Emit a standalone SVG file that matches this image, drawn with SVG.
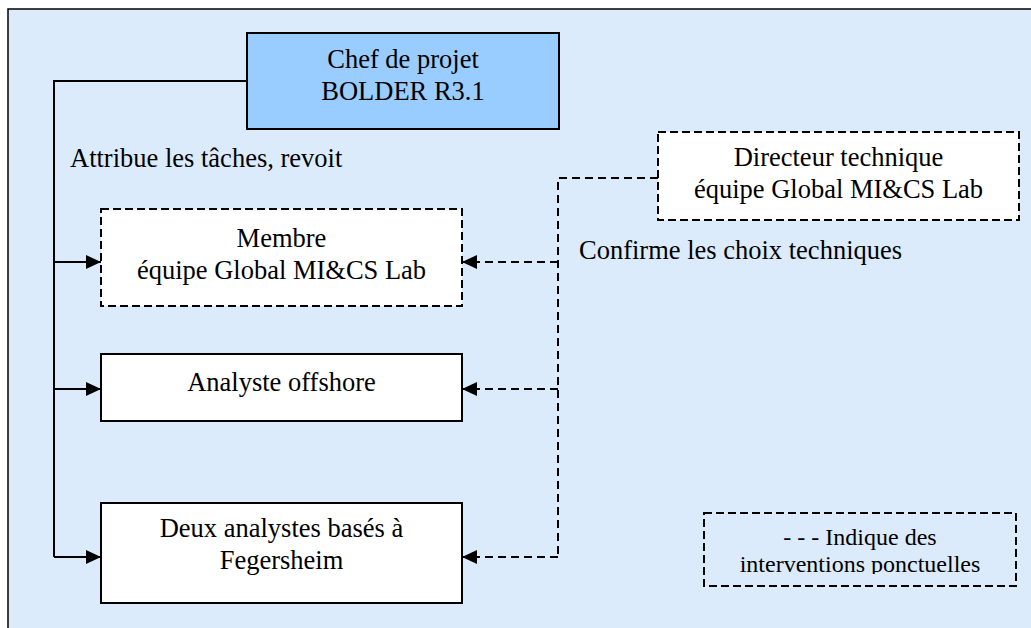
<svg xmlns="http://www.w3.org/2000/svg" width="1031" height="628" viewBox="0 0 1031 628">
<style>
text{font-family:"Liberation Serif","Times New Roman",serif;font-size:26.5px;fill:#000;text-anchor:middle}
.box{stroke:#000;stroke-width:2;fill:#fff}
.dbox{stroke:#000;stroke-width:2;fill:#fff;stroke-dasharray:8 4}
.solid{fill:none;stroke:#000;stroke-width:2}
.dash{fill:none;stroke:#000;stroke-width:2;stroke-dasharray:8 5}
</style>
<defs>
<marker id="ah" markerWidth="15" markerHeight="14" refX="15" refY="7" orient="auto" markerUnits="userSpaceOnUse">
<path d="M0,0 L15,7 L0,14 Z" fill="#000"/>
</marker>
<clipPath id="legclip"><rect x="704" y="513" width="312" height="61"/></clipPath>
</defs>
<rect x="0" y="0" width="1031" height="628" fill="#fff"/>
<rect x="8" y="9" width="1040" height="640" fill="#DCEBFC" stroke="#000" stroke-width="1.5"/>

<g id="connectors">
<path class="solid" d="M247,81 H54 V557"/>
<path class="solid" d="M54,262 H101" marker-end="url(#ah)"/>
<path class="solid" d="M54,389 H101" marker-end="url(#ah)"/>
<path class="solid" d="M54,557 H101" marker-end="url(#ah)"/>
<path class="dash" d="M658,178 H558 V557"/>
<path class="dash" d="M558,262 H462" marker-end="url(#ah)"/>
<path class="dash" d="M558,389 H462" marker-end="url(#ah)"/>
<path class="dash" d="M558,557 H462" marker-end="url(#ah)"/>
</g>

<g id="chef">
<rect x="247" y="33" width="312" height="96" fill="#99CCFF" stroke="#000" stroke-width="2"/>
<text x="403" y="68">Chef de projet</text>
<text x="403" y="100">BOLDER R3.1</text>
</g>

<g id="label-attribue">
<text x="70" y="167" style="text-anchor:start">Attribue les tâches, revoit</text>
</g>

<g id="directeur">
<rect class="dbox" x="658" y="132" width="361" height="88"/>
<text x="838.5" y="166">Directeur technique</text>
<text x="838.5" y="198">équipe Global MI&amp;CS Lab</text>
</g>

<g id="label-confirme">
<text x="579" y="259" style="text-anchor:start">Confirme les choix techniques</text>
</g>

<g id="membre">
<rect class="dbox" x="101" y="209" width="361" height="97"/>
<text x="281.5" y="247">Membre</text>
<text x="281.5" y="279">équipe Global MI&amp;CS Lab</text>
</g>

<g id="analyste">
<rect class="box" x="101" y="354" width="361" height="67"/>
<text x="281.5" y="391">Analyste offshore</text>
</g>

<g id="deux">
<rect class="box" x="101" y="503" width="361" height="100"/>
<text x="281.5" y="537">Deux analystes basés à</text>
<text x="281.5" y="569">Fegersheim</text>
</g>

<g id="legende">
<rect class="dbox" x="704" y="513" width="312" height="73" fill="none" style="fill:none"/>
<g clip-path="url(#legclip)">
<text x="860" y="545" style="font-size:24px">- - - Indique des</text>
<text x="860" y="572" style="font-size:24px">interventions ponctuelles</text>
</g>
</g>
</svg>
